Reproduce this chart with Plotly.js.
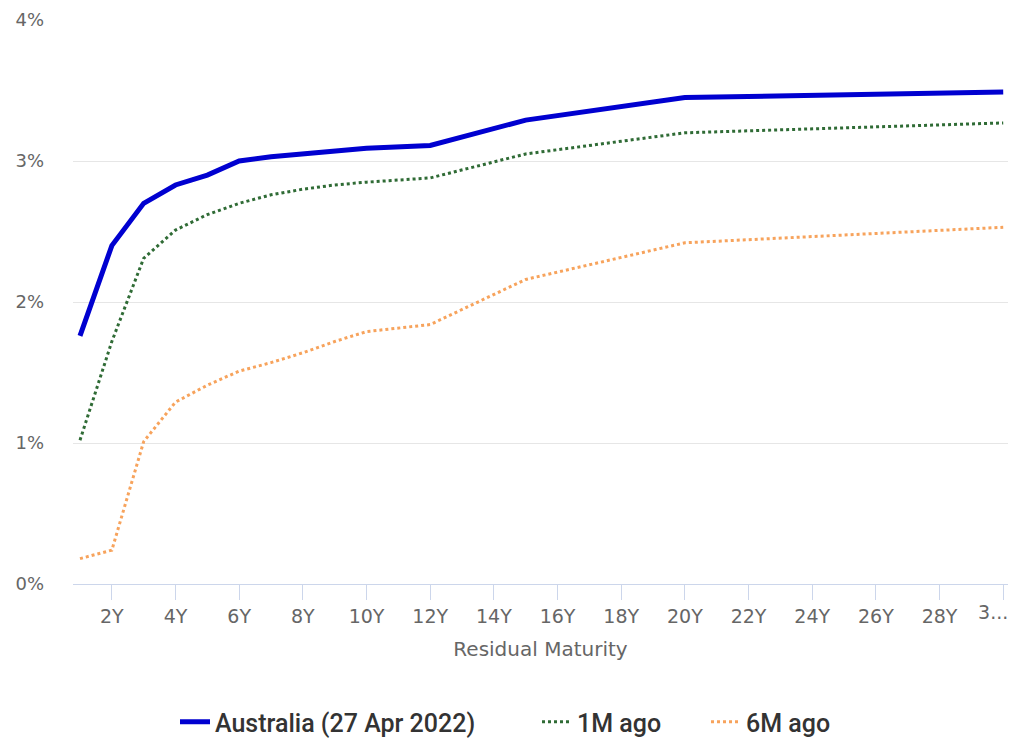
<!DOCTYPE html>
<html>
<head>
<meta charset="utf-8">
<script src="https://cdn.plot.ly/plotly-3.0.1.min.js"></script>
<style>html,body{margin:0;padding:0;background:#fff;}#chart{width:1013px;height:738px;}</style>
</head>
<body>
<div id="chart"></div>
<script>
// Residual maturity in years
const maturities = [1, 2, 3, 4, 5, 6, 7, 8, 9, 10, 12, 15, 20, 30];
// Yields in %
const australia = [1.76, 2.40, 2.70, 2.83, 2.90, 3.00, 3.03, 3.05, 3.07, 3.09, 3.11, 3.29, 3.45, 3.49];
const oneMonthAgo = [1.02, 1.72, 2.31, 2.51, 2.62, 2.70, 2.76, 2.80, 2.83, 2.85, 2.88, 3.05, 3.20, 3.27];
const sixMonthsAgo = [0.18, 0.24, 1.01, 1.29, 1.41, 1.51, 1.57, 1.64, 1.72, 1.79, 1.84, 2.16, 2.42, 2.53];
const tickYears = [2, 4, 6, 8, 10, 12, 14, 16, 18, 20, 22, 24, 26, 28, 30];
const tickLabels = ["2Y", "4Y", "6Y", "8Y", "10Y", "12Y", "14Y", "16Y", "18Y", "20Y", "22Y", "24Y", "26Y", "28Y", ""];
// last label is truncated in the source chart and shifted left to fit
const lastTickYear = [30];
const lastTickLabel = ["3..."];
const yTicks = [0, 1, 2, 3, 4];
const yTickLabels = ["0%", "1%", "2%", "3%", "4%"];

const legendFont = {family: "Roboto", size: 25, color: "#333", weight: 500};
const tickFont = {family: "DejaVu Sans", size: 19, color: "#666"};
const xRange = [0.78, 30.15];

const traces = [
  {x: maturities, y: australia, name: "Australia (27 Apr 2022)", type: "scatter", mode: "lines",
   line: {color: "#0000d0", width: 5}, legend: "legend"},
  {x: maturities, y: oneMonthAgo, name: "1M ago", type: "scatter", mode: "lines",
   line: {color: "#2f6b35", width: 3, dash: "dot"}, legend: "legend2"},
  {x: maturities, y: sixMonthsAgo, name: "6M ago", type: "scatter", mode: "lines", xaxis: "x2",
   line: {color: "#f7a35c", width: 3, dash: "dot"}, legend: "legend3"}
];

function legendAt(px) {
  return {orientation: "h", x: (px - 73) / 935, xanchor: "left", y: (584 - 722) / 564, yanchor: "middle",
          font: legendFont, itemwidth: 30, bgcolor: "rgba(0,0,0,0)", tracegroupgap: 0};
}

const layout = {
  width: 1013, height: 738,
  margin: {l: 73, r: 5, t: 20, b: 154, autoexpand: false},
  paper_bgcolor: "#fff", plot_bgcolor: "#fff",
  showlegend: true,
  xaxis: {
    range: xRange,
    tickvals: tickYears, ticktext: tickLabels,
    showgrid: false, zeroline: false,
    showline: true, linecolor: "#ccd6eb", linewidth: 1,
    ticks: "outside", ticklen: 15, tickcolor: "#ccd6eb",
    tickfont: tickFont,
    title: {text: "Residual Maturity", font: {family: "DejaVu Sans", size: 20, color: "#666"}, standoff: 16},
    fixedrange: true
  },
  xaxis2: {
    overlaying: "x", anchor: "y", side: "bottom",
    range: xRange,
    tickvals: lastTickYear, ticktext: lastTickLabel,
    showgrid: false, zeroline: false, showline: false,
    ticks: "", ticklen: 15, tickcolor: "rgba(0,0,0,0)",
    ticklabelshift: -10, ticklabelstandoff: 15,
    tickfont: tickFont,
    fixedrange: true
  },
  yaxis: {
    range: [0, 4],
    tickvals: yTicks, ticktext: yTickLabels,
    showgrid: true, gridcolor: "#e6e6e6", gridwidth: 1,
    zeroline: false, showline: false, ticks: "",
    ticklabelstandoff: 28,
    tickfont: {family: "DejaVu Sans", size: 18, color: "#666"},
    fixedrange: true
  },
  legend: legendAt(175),
  legend2: legendAt(537),
  legend3: legendAt(706)
};

Plotly.newPlot("chart", traces, layout, {displayModeBar: false, staticPlot: true});
</script>
</body>
</html>
